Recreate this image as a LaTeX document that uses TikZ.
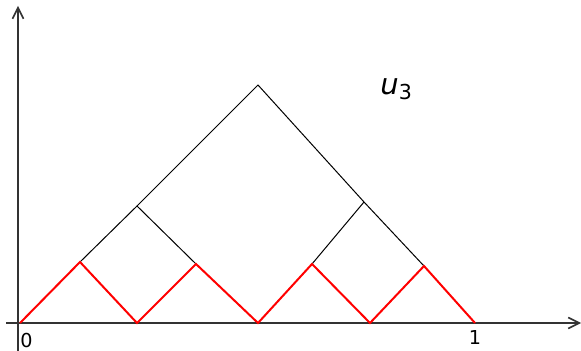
\documentclass[tikz,border=0pt]{standalone}
\usepackage{fontspec}
\setmainfont{DejaVu Sans}
\usetikzlibrary{arrows.meta}
\begin{document}
\begin{tikzpicture}[
        x=0.5pt, y=-0.5pt,
        axis/.style={draw=black!80, line width=0.8pt, -{Straight Barb[length=5.5pt, width=5.5pt]}},
        hat/.style={draw=black, line width=0.5pt},
        zig/.style={draw=red, line width=1pt, line join=miter},
        lbl/.style={inner sep=0pt, font=\fontsize{9.6}{11}\selectfont}
    ]
        \useasboundingbox (0,0) rectangle (581,351);

        % Axes
        \coordinate (xs) at (6,323);
        \coordinate (xe) at (581,323);
        \coordinate (ys) at (18,351);
        \coordinate (ye) at (18,6);
        \draw[axis] (xs) -- (xe);
        \draw[axis] (ys) -- (ye);

        % Red zigzag
        \coordinate (a0) at (20,323);
        \coordinate (a1) at (80,262);
        \coordinate (a2) at (137,323);
        \coordinate (a3) at (196,264);
        \coordinate (a4) at (258,323);
        \coordinate (a5) at (312,264);
        \coordinate (a6) at (370,323);
        \coordinate (a7) at (424,266);
        \coordinate (a8) at (475,323);

        % Black hats
        \coordinate (b1) at (137,206);
        \coordinate (b2) at (258,85);
        \coordinate (b3) at (364,202);

        \draw[hat] (a1) -- (b1) -- (a3);
        \draw[hat] (b1) -- (b2) -- (b3) -- (a7);
        \draw[hat] (a5) -- (b3);

        \draw[zig] (a0) -- (a1) -- (a2) -- (a3) -- (a4) -- (a5) -- (a6) -- (a7) -- (a8);

        % Labels
        \node[lbl, anchor=north west] (zero) at (20,333) {0};
        \node[lbl, anchor=north] (one) at (475,330) {1};
        \node[inner sep=0pt, anchor=west] (u3) at (380,89)
            {\fontsize{14.5}{16}\selectfont\itshape u\raisebox{-0.35ex}{\fontsize{10.3}{12}\selectfont\upshape 3}};
    \end{tikzpicture}
\end{document}
